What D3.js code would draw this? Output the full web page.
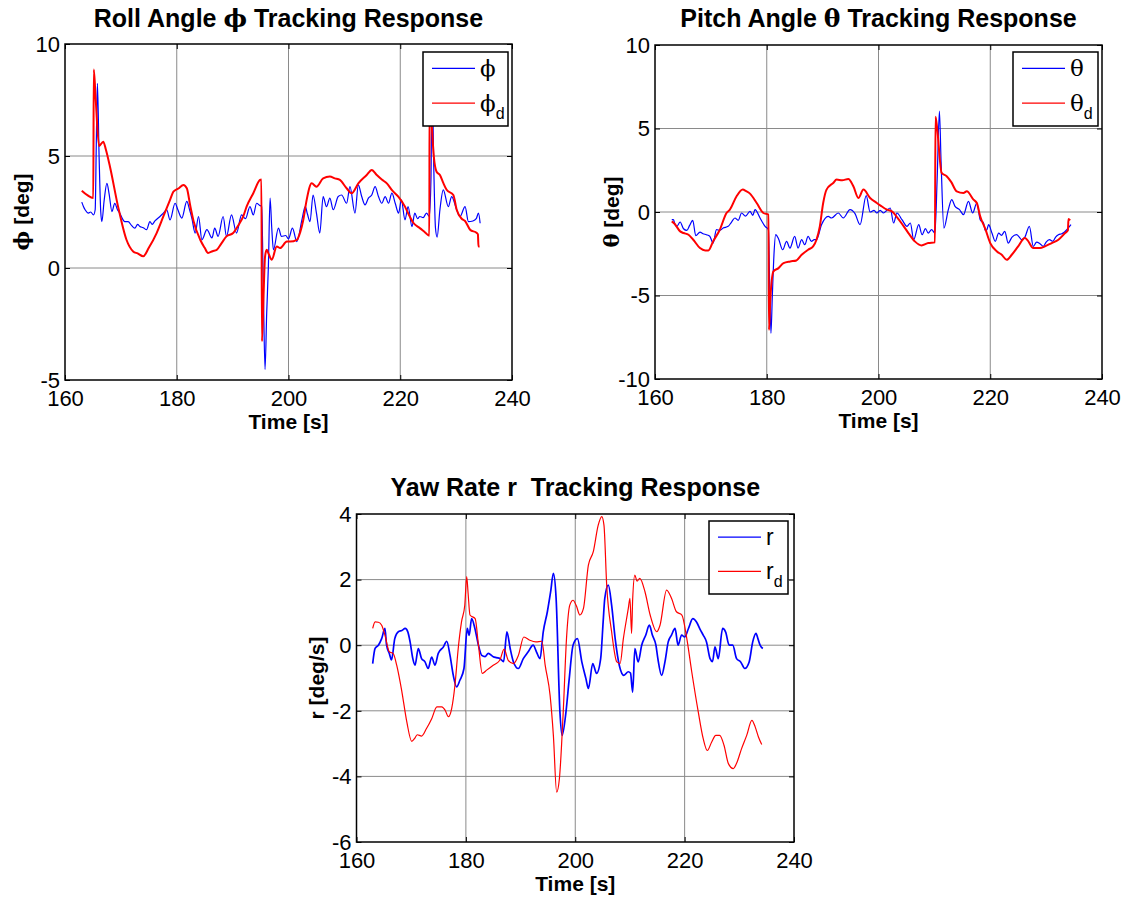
<!DOCTYPE html>
<html>
<head>
<meta charset="utf-8">
<script src="https://cdn.jsdelivr.net/npm/d3@7"></script>
<style>
  html, body { margin: 0; padding: 0; background: #fff; }
  svg { display: block; }
  text { font-family: "Liberation Sans", Arial, "DejaVu Sans", sans-serif; fill: #000; white-space: pre; }
</style>
</head>
<body>
<svg id="fig" width="1132" height="898"></svg>
<script>
// ---- time axis ----
const timeTicks = [160, 180, 200, 220, 240];

// ---- roll angle: [time s, deg] ----
const rollPhi = [[163.0,2.94],[163.3,2.75],[163.6,2.6],[164.2,2.45],[164.6,2.5],[165.1,2.37],[165.4,2.6],[165.6,5.5],[165.8,8.24],[166.1,5.0],[166.4,2.5],[166.6,2.07],[167.0,3.0],[167.5,3.78],[167.9,3.3],[168.4,2.52],[168.9,2.89],[169.4,2.6],[169.8,2.45],[170.4,2.15],[170.7,2.07],[171.3,2.07],[171.9,1.9],[172.5,1.78],[173.0,1.95],[173.4,1.85],[174.0,1.8],[174.6,1.71],[175.2,2.07],[175.6,1.95],[176.1,2.1],[177.0,2.3],[177.6,2.45],[178.2,2.6],[178.8,2.15],[179.7,2.89],[180.2,2.6],[180.9,2.23],[181.8,2.97],[182.3,2.6],[182.7,2.23],[183.3,1.56],[183.9,2.3],[184.5,1.26],[185.4,1.71],[186.3,1.34],[186.8,1.78],[187.4,1.41],[188.3,2.3],[188.9,1.41],[189.8,2.37],[190.7,1.56],[191.6,2.37],[192.3,2.2],[193.1,2.74],[193.7,2.37],[194.3,2.89],[194.8,2.8],[195.2,2.74],[195.5,-1.0],[195.8,-4.53],[196.1,-2.0],[196.4,0.07],[196.7,3.12],[197.0,1.8],[197.3,0.81],[198.2,1.78],[198.75,1.41],[199.5,1.45],[200.0,1.3],[200.7,1.78],[201.5,1.18],[202.4,2.15],[203.0,2.74],[203.4,2.4],[203.85,2.07],[204.4,3.26],[205.0,2.45],[205.6,1.56],[206.2,3.19],[206.8,2.74],[207.4,3.12],[208.0,2.6],[208.9,3.19],[209.5,3.26],[210.4,2.89],[211.0,3.63],[211.9,2.45],[212.5,3.71],[213.1,3.19],[213.7,2.82],[214.3,3.12],[214.9,3.26],[215.5,3.63],[216.1,3.19],[216.7,2.89],[217.3,3.19],[217.9,2.89],[218.5,3.34],[219.1,2.89],[219.7,2.45],[220.2,3.04],[220.85,2.15],[221.4,2.74],[222.1,1.85],[222.6,2.45],[223.1,2.2],[223.5,2.3],[224.1,2.25],[224.7,2.45],[225.2,2.3],[225.5,4.0],[225.7,8.5],[226.0,4.5],[226.3,1.8],[226.6,1.38],[227.1,2.6],[227.7,3.49],[228.6,2.74],[229.2,3.19],[230.1,2.6],[230.7,2.3],[231.6,2.74],[232.2,2.07],[233.0,2.1],[233.6,2.2],[234.0,2.45],[234.3,2.0]];
const rollPhiD = [[163.0,3.45],[164.0,3.25],[165.06,3.12],[165.15,8.86],[165.5,7.5],[166.1,5.45],[166.85,5.64],[167.3,5.3],[168.05,4.52],[169.5,2.74],[171.0,1.26],[172.2,0.74],[173.0,0.65],[174.0,0.52],[175.0,0.9],[176.4,1.56],[177.6,2.3],[178.8,3.04],[179.4,3.41],[180.3,3.55],[181.2,3.71],[181.8,3.56],[182.4,2.8],[183.0,2.1],[184.2,1.26],[185.0,0.9],[185.6,0.67],[186.4,0.75],[187.15,0.81],[188.0,1.1],[188.9,1.41],[190.1,1.56],[191.0,1.9],[191.9,2.3],[192.5,2.74],[193.7,3.34],[194.9,3.93],[195.15,3.95],[195.25,-3.27],[195.5,-1.5],[195.8,0.5],[196.1,0.81],[196.5,0.6],[197.0,0.37],[197.9,0.96],[198.5,0.89],[199.7,1.18],[200.3,1.18],[201.5,1.26],[202.1,1.6],[202.65,2.15],[203.25,3.04],[204.15,3.78],[205.0,3.63],[206.2,4.0],[207.4,4.08],[208.3,4.0],[209.2,3.93],[210.4,3.56],[211.3,3.34],[212.5,3.78],[214.0,4.15],[214.9,4.38],[215.8,4.15],[216.7,3.95],[217.6,3.78],[218.6,3.45],[219.65,3.19],[220.85,2.74],[221.5,2.4],[222.3,2.03],[223.5,1.78],[224.4,1.6],[225.2,1.44],[225.25,7.5],[225.6,6.5],[226.0,5.0],[226.5,4.3],[227.1,4.15],[227.7,3.8],[228.3,3.49],[229.5,3.26],[230.1,2.6],[231.0,2.2],[231.6,2.1],[232.5,1.71],[233.7,1.56],[233.9,1.5],[234.0,0.96],[234.2,0.96]];

// ---- pitch angle: [time s, deg] ----
const pitchTheta = [[163.0,-0.46],[163.3,-0.46],[163.6,-0.76],[163.9,-0.86],[164.5,-0.6],[165.1,-1.0],[165.7,-1.1],[166.2,-0.8],[166.75,-0.5],[167.3,-1.42],[168.05,-1.2],[168.6,-1.3],[169.2,-1.36],[169.8,-1.45],[170.4,-1.86],[171.0,-1.06],[171.6,-1.1],[172.2,-0.96],[173.1,-0.86],[173.7,-0.6],[174.3,-0.36],[174.9,-0.5],[175.5,-0.06],[176.2,-0.25],[177.0,0.04],[177.5,-0.2],[177.9,0.14],[178.8,-0.36],[179.7,-0.86],[180.3,-1.06],[180.5,-4.0],[180.75,-7.26],[181.0,-5.0],[181.3,-2.5],[181.6,-1.36],[182.1,-1.6],[182.85,-2.26],[183.55,-1.76],[184.15,-2.16],[185.0,-1.46],[185.6,-2.16],[186.25,-1.66],[186.8,-1.96],[187.4,-1.46],[188.0,-1.76],[188.5,-1.66],[188.9,-1.66],[189.8,-0.76],[191.0,-0.26],[191.6,-0.36],[192.8,-0.06],[193.7,-0.36],[194.9,0.14],[195.8,-0.1],[196.7,-0.76],[197.8,0.98],[198.5,0.0],[199.2,0.1],[199.7,-0.06],[200.3,0.1],[200.9,-0.06],[201.5,0.1],[202.1,0.24],[202.7,-0.66],[203.3,-0.06],[204.2,-0.46],[205.1,-0.86],[205.7,-0.66],[206.3,-1.66],[207.2,-0.76],[207.8,-1.36],[208.4,-1.0],[208.9,-1.26],[209.5,-1.06],[210.1,-1.26],[210.5,2.0],[210.9,6.04],[211.2,3.0],[211.7,-0.96],[212.5,0.14],[213.1,0.74],[213.7,0.34],[214.5,0.14],[215.2,-0.16],[216.1,0.64],[216.85,-0.06],[217.6,0.54],[218.2,-0.46],[218.8,-0.66],[219.1,-1.1],[219.4,-1.06],[219.7,-0.76],[220.3,-1.26],[220.9,-1.76],[221.5,-1.26],[222.0,-1.4],[222.6,-1.16],[223.2,-1.86],[223.9,-1.5],[224.7,-1.36],[225.2,-1.5],[225.6,-1.66],[226.2,-1.5],[227.0,-0.86],[227.7,-2.06],[228.3,-1.8],[228.9,-1.9],[229.5,-2.06],[230.0,-1.8],[230.6,-1.66],[231.2,-1.75],[231.7,-1.5],[232.2,-1.36],[232.8,-1.3],[233.3,-1.2],[233.7,-1.06],[234.45,-0.76]];
const pitchThetaD = [[163.0,-0.56],[163.5,-0.7],[164.5,-1.16],[165.1,-1.26],[166.0,-1.36],[166.85,-1.66],[168.05,-2.16],[169.0,-2.3],[169.55,-2.3],[170.4,-1.76],[171.6,-1.06],[172.8,-0.06],[173.4,0.14],[174.6,0.94],[175.7,1.34],[176.3,1.25],[177.0,1.1],[178.2,0.54],[179.4,-0.06],[180.3,-0.16],[180.4,-7.06],[180.6,-5.5],[181.2,-3.56],[182.1,-3.36],[183.0,-3.06],[184.2,-2.96],[185.3,-2.9],[186.25,-2.56],[187.4,-2.26],[188.3,-2.06],[188.9,-1.66],[189.5,-0.86],[190.1,0.54],[190.7,1.34],[191.9,1.74],[192.5,1.94],[193.5,1.9],[194.6,1.98],[195.5,1.54],[196.4,0.84],[197.3,1.34],[198.5,0.84],[199.7,0.54],[200.3,0.4],[201.5,0.14],[202.4,0.04],[203.3,-0.3],[204.4,-0.8],[205.35,-1.26],[206.5,-1.76],[207.7,-2.0],[208.9,-1.86],[210.1,-1.82],[210.2,5.7],[210.5,5.0],[211.3,2.34],[212.2,2.14],[213.0,1.8],[214.0,1.24],[215.2,1.14],[215.8,1.24],[217.0,0.74],[217.6,0.54],[218.2,-0.26],[219.1,-1.0],[220.0,-1.86],[221.2,-2.36],[222.05,-2.56],[222.95,-2.86],[223.85,-2.56],[225.0,-2.06],[226.2,-1.56],[226.7,-1.7],[227.7,-2.16],[228.9,-2.16],[229.8,-2.06],[231.0,-1.86],[232.2,-1.66],[233.4,-1.26],[233.9,-1.1],[234.0,-0.42],[234.3,-0.5]];

// ---- yaw rate: [time s, deg/s] ----
const yawR = [[162.96,-0.56],[163.4,-0.1],[164.0,0.0],[164.6,0.2],[165.2,0.51],[165.5,0.0],[166.0,-0.25],[166.4,-0.45],[167.0,0.2],[167.65,0.41],[168.3,0.45],[168.9,0.51],[169.4,0.4],[169.8,0.1],[170.3,-0.41],[170.7,-0.61],[171.3,-0.1],[171.9,-0.41],[172.5,-0.5],[173.1,-0.71],[173.75,-0.36],[174.35,-0.61],[174.95,-0.25],[175.9,-0.05],[176.5,0.12],[177.1,-0.31],[177.7,-0.92],[178.3,-1.27],[178.9,-1.07],[179.65,-0.71],[180.25,0.51],[180.6,0.3],[181.05,0.81],[181.65,0.51],[182.3,0.0],[182.9,-0.31],[183.5,-0.35],[184.1,-0.25],[185.0,-0.35],[185.6,-0.38],[186.25,-0.41],[186.9,-0.5],[187.5,0.41],[188.1,-0.1],[188.7,-0.51],[189.6,-0.71],[190.5,-0.41],[191.4,-0.2],[192.3,0.0],[192.9,-0.2],[193.55,-0.41],[194.15,0.41],[194.9,1.02],[195.5,1.63],[196.0,2.19],[196.5,1.43],[197.2,-2.04],[197.6,-2.75],[198.3,-2.04],[198.9,-1.02],[199.6,0.0],[200.4,0.2],[201.2,-0.51],[201.95,-1.02],[202.4,-1.32],[203.2,-0.56],[203.9,-0.86],[204.65,-0.41],[205.1,0.71],[205.4,1.43],[206.05,1.83],[206.65,1.22],[207.3,0.2],[208.05,-0.61],[208.9,-0.92],[209.7,-0.81],[210.1,-0.85],[210.5,-1.43],[210.9,-0.1],[211.5,-0.51],[212.15,0.0],[212.9,0.31],[213.55,0.61],[214.1,0.31],[214.75,0.0],[215.1,-0.4],[215.8,-0.92],[216.4,-0.51],[217.0,0.1],[217.6,0.31],[218.25,0.51],[218.8,0.0],[219.45,0.31],[220.0,0.25],[220.7,0.51],[221.5,0.81],[222.2,0.7],[222.9,0.46],[223.4,0.31],[224.0,0.1],[224.65,-0.41],[225.1,-0.5],[225.55,-0.05],[226.15,-0.41],[226.95,0.51],[227.5,0.4],[228.15,0.0],[228.8,0.0],[229.5,-0.41],[230.25,-0.51],[231.0,-0.71],[231.8,-0.51],[232.45,0.1],[233.05,0.36],[233.4,0.2],[233.8,0.0],[234.3,-0.1]];
const yawRd = [[162.96,0.51],[163.4,0.71],[164.0,0.7],[164.6,0.61],[165.2,0.31],[166.0,-0.2],[166.7,-0.25],[167.35,-0.61],[168.3,-1.42],[169.2,-2.34],[170.1,-2.93],[170.6,-2.85],[171.1,-2.73],[171.9,-2.77],[172.8,-2.54],[173.75,-2.24],[174.7,-1.88],[175.6,-1.88],[176.2,-1.98],[176.8,-2.18],[177.4,-1.93],[178.0,-1.22],[178.6,-0.1],[179.2,0.71],[179.8,1.22],[180.15,2.09],[180.4,1.6],[180.75,0.92],[181.7,0.81],[182.3,0.0],[183.0,-0.86],[183.8,-0.76],[185.0,-0.61],[186.2,-0.46],[187.0,-0.12],[187.75,-0.46],[188.7,-0.56],[189.6,-0.31],[190.6,0.25],[191.7,0.15],[192.8,0.1],[193.9,0.12],[194.5,-0.61],[195.4,-1.53],[196.0,-2.75],[196.6,-4.48],[197.1,-4.07],[197.8,-2.04],[198.4,0.2],[199.0,1.22],[199.6,1.37],[200.2,1.2],[200.85,0.92],[201.5,1.12],[202.4,2.44],[203.3,2.85],[204.2,3.66],[204.85,3.92],[205.25,3.66],[205.75,1.83],[206.65,0.41],[207.6,-0.51],[208.2,-0.56],[208.8,0.2],[209.7,1.12],[210.0,1.43],[210.3,0.36],[210.5,1.4],[210.9,2.14],[211.3,1.95],[211.8,2.04],[212.75,1.63],[213.7,0.92],[214.9,0.41],[215.5,0.61],[216.7,1.68],[217.6,1.43],[218.5,1.02],[219.5,0.92],[220.4,0.2],[221.3,-0.81],[222.5,-2.04],[223.4,-2.85],[224.15,-3.21],[224.95,-2.95],[225.7,-2.75],[226.4,-2.75],[227.2,-3.05],[228.0,-3.61],[228.9,-3.76],[229.5,-3.6],[230.4,-3.16],[231.35,-2.75],[232.3,-2.29],[232.9,-2.49],[233.5,-2.8],[234.1,-3.03]];

// ---- y ticks ----
const rollTicks = [-5, 0, 5, 10];
const pitchTicks = [-10, -5, 0, 5, 10];
const yawTicks = [-6, -4, -2, 0, 2, 4];

const SANS = '"Liberation Sans", Arial, sans-serif';
const GREEK = '"DejaVu Serif", "Liberation Serif", serif';

// subplot layout
const panels = [
  {
    box: { x: 65, y: 44, w: 447, h: 336 },
    yDomain: [-5, 10], yTicks: rollTicks,
    title: [["Roll Angle "], ["ϕ", GREEK], [" Tracking Response"]],
    titleGap: 17,
    ylabel: [["ϕ", GREEK], [" [deg]"]],
    ylabelX: 29,
    series: [
      { data: rollPhi, color: "#0000ff", width: 1.2 },
      { data: rollPhiD, color: "#ff0000", width: 2.0 }
    ],
    legend: { x: 423, y: 52, w: 85, h: 74, sym: "ϕ" }
  },
  {
    box: { x: 655, y: 45, w: 447, h: 334 },
    yDomain: [-10, 10], yTicks: pitchTicks,
    title: [["Pitch Angle "], ["θ", GREEK], [" Tracking Response"]],
    titleGap: 18,
    ylabel: [["θ", GREEK], [" [deg]"]],
    ylabelX: 619,
    series: [
      { data: pitchTheta, color: "#0000ff", width: 1.2 },
      { data: pitchThetaD, color: "#ff0000", width: 2.0 }
    ],
    legend: { x: 1013, y: 52, w: 85, h: 74, sym: "θ" }
  },
  {
    box: { x: 356.5, y: 514, w: 437.5, h: 328 },
    yDomain: [-6, 4], yTicks: yawTicks,
    title: [["Yaw Rate r  Tracking Response"]],
    titleGap: 18,
    ylabel: [["r [deg/s]"]],
    ylabelX: 324,
    series: [
      { data: yawR, color: "#0000ff", width: 1.7 },
      { data: yawRd, color: "#ff0000", width: 1.2 }
    ],
    legend: { x: 709, y: 521, w: 79, h: 73, sym: "r", latin: true }
  }
];

const svg = d3.select("#fig");

function richText(sel, parts) {
  parts.forEach(([s, font]) => {
    const t = sel.append("tspan").text(s);
    if (font) t.style("font-family", font);
  });
}

panels.forEach(p => {
  const b = p.box;
  const x = d3.scaleLinear().domain([160, 240]).range([b.x, b.x + b.w]);
  const y = d3.scaleLinear().domain(p.yDomain).range([b.y + b.h, b.y]);
  const g = svg.append("g");

  // grid
  g.append("g").selectAll("line").data(timeTicks.slice(1, -1)).join("line")
    .attr("x1", d => x(d)).attr("x2", d => x(d))
    .attr("y1", b.y).attr("y2", b.y + b.h)
    .attr("stroke", "#8a8a8a").attr("stroke-width", 1);
  g.append("g").selectAll("line").data(p.yTicks.slice(1, -1)).join("line")
    .attr("y1", d => y(d)).attr("y2", d => y(d))
    .attr("x1", b.x).attr("x2", b.x + b.w)
    .attr("stroke", "#8a8a8a").attr("stroke-width", 1);

  // data lines
  const clipId = "clip" + Math.round(b.x);
  svg.append("clipPath").attr("id", clipId).append("rect")
    .attr("x", b.x).attr("y", b.y).attr("width", b.w).attr("height", b.h);
  const line = d3.line().curve(d3.curveMonotoneX).x(d => x(d[0])).y(d => y(d[1]));
  p.series.forEach(s => {
    g.append("path").datum(s.data)
      .attr("clip-path", `url(#${clipId})`)
      .attr("d", line).attr("fill", "none")
      .attr("stroke", s.color).attr("stroke-width", s.width)
      .attr("stroke-linejoin", "round");
  });

  // axes with inward ticks on all four sides
  const tl = 5;
  const fmt = d => String(d);
  const bottom = g.append("g").attr("transform", `translate(0,${b.y + b.h})`)
    .call(d3.axisBottom(x).tickValues(timeTicks).tickFormat(fmt).tickSizeInner(-tl).tickSizeOuter(0).tickPadding(10));
  const top = g.append("g").attr("transform", `translate(0,${b.y})`)
    .call(d3.axisTop(x).tickValues(timeTicks).tickSizeInner(-tl).tickSizeOuter(0).tickFormat(""));
  const left = g.append("g").attr("transform", `translate(${b.x},0)`)
    .call(d3.axisLeft(y).tickValues(p.yTicks).tickFormat(fmt).tickSizeInner(-tl).tickSizeOuter(0).tickPadding(5));
  const right = g.append("g").attr("transform", `translate(${b.x + b.w},0)`)
    .call(d3.axisRight(y).tickValues(p.yTicks).tickSizeInner(-tl).tickSizeOuter(0).tickFormat(""));
  [bottom, top, left, right].forEach(a => {
    a.select(".domain").remove();
    a.selectAll(".tick line").attr("stroke", "#000").attr("stroke-width", 1);
    a.selectAll("text").style("font-size", "22px").style("font-family", SANS).attr("fill", "#000");
  });
  bottom.selectAll("text").attr("dy", "0.74em");
  left.selectAll("text").attr("dy", "0.33em");

  g.append("rect").attr("x", b.x).attr("y", b.y).attr("width", b.w).attr("height", b.h)
    .attr("fill", "none").attr("stroke", "#000").attr("stroke-width", 1.5);

  // title
  const tt = g.append("text").attr("x", b.x + b.w / 2).attr("y", b.y - p.titleGap)
    .attr("text-anchor", "middle").style("font-size", "25px").style("font-weight", "bold");
  richText(tt, p.title);

  // x label
  g.append("text").attr("x", b.x + b.w / 2).attr("y", b.y + b.h + 49)
    .attr("text-anchor", "middle").style("font-size", "21px").style("font-weight", "bold")
    .text("Time [s]");

  // y label
  const yl = g.append("text")
    .attr("transform", `translate(${p.ylabelX},${b.y + b.h / 2}) rotate(-90)`)
    .attr("text-anchor", "middle").style("font-size", "21px").style("font-weight", "bold");
  richText(yl, p.ylabel);

  // legend
  const L = p.legend;
  const lg = g.append("g");
  lg.append("rect").attr("x", L.x).attr("y", L.y).attr("width", L.w).attr("height", L.h)
    .attr("fill", "#fff").attr("stroke", "#000").attr("stroke-width", 1.5);
  const rowY = [L.y + L.h * 0.22, L.y + L.h * 0.69];
  p.series.forEach((s, i) => {
    lg.append("line").attr("x1", L.x + 9).attr("x2", L.x + 52)
      .attr("y1", rowY[i]).attr("y2", rowY[i])
      .attr("stroke", s.color).attr("stroke-width", 1.2);
    const t = lg.append("text").attr("x", L.x + 57).attr("y", rowY[i] + 8)
      .style("font-size", "23px")
      .style("font-family", L.latin ? SANS : GREEK);
    t.append("tspan").text(L.sym);
    if (i === 1) {
      t.append("tspan").attr("dy", 8).style("font-size", "16px")
        .style("font-family", SANS).text("d");
    }
  });
});
</script>
</body>
</html>
